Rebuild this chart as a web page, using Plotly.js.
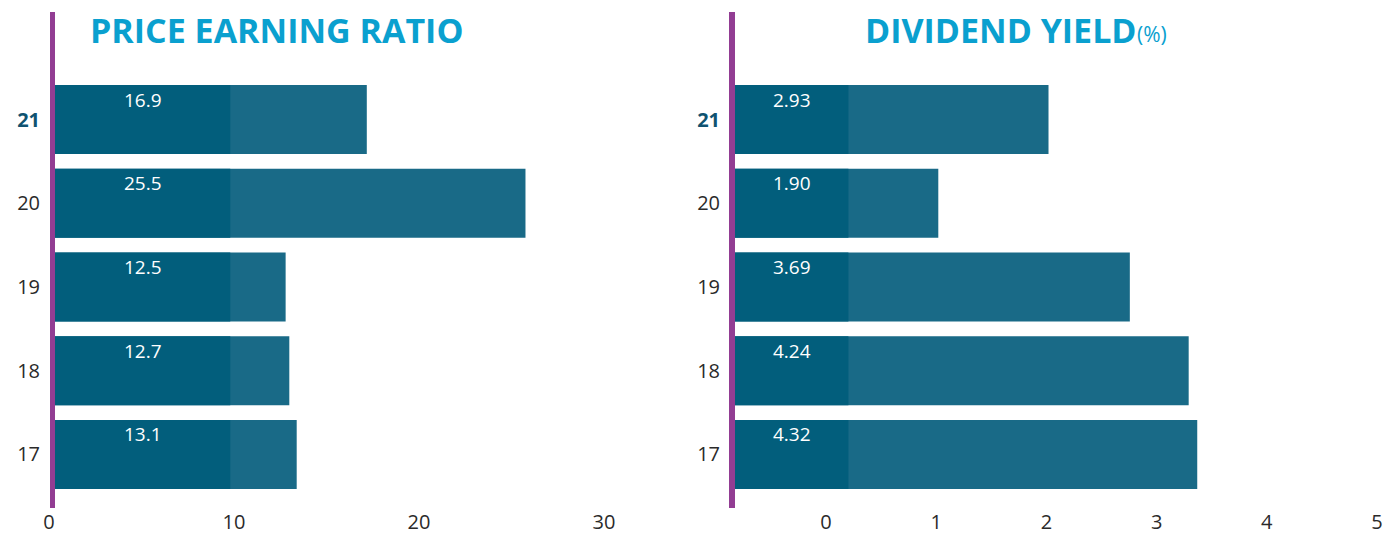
<!DOCTYPE html>
<html>
<head>
<meta charset="utf-8">
<script src="https://cdn.plot.ly/plotly-3.0.1.min.js"></script>
<style>
  html, body { margin: 0; padding: 0; background: #ffffff; }
  #chart { width: 1385px; height: 536px; }
</style>
</head>
<body>
<div id="chart"></div>
<script>
// ---- data ----
const years = ['17', '18', '19', '20', '21'];
const yearLabels = ['17', '18', '19', '20', '<span style="color:#0f5371"><b>21</b></span>'];
const perValues = [13.1, 12.7, 12.5, 25.5, 16.9];
const dyValues = [4.32, 4.24, 3.69, 1.90, 2.93];
const perTicks = [0, 10, 20, 30];
const dyTicks = [0, 1, 2, 3, 4, 5];
const perTitle = 'PRICE EARNING RATIO';
const dyTitle = 'DIVIDEND YIELD';
const dyUnit = '(%)';

// ---- style ----
const W = 1385, H = 536;
const DARK = '#025e7c';
const LIGHT = '#196a87';
const PURPLE = '#923d93';
const TITLE = '#0aa0cf';
const FONT = 'Open Sans, Lato, sans-serif';
const LABEL_W_PER = 9.5;   // width of the dark label block (PER units)
const LABEL_W_DY = 1.06;   // width of the dark label block (DY units)
const f = px => px / W;

// pixel geometry of the two panels
const perDom = [41, 650], perBar0 = 55, perBarScale = 18.45, perTick0 = 49, perTickScale = 18.5;
const dyDom = [721, 1384], dyBar0 = 735, dyBarScale = 107, dyTick0 = 826, dyTickScale = 110.2;
const yRange = [-0.639, 5.284];

const traces = [
  {type: 'bar', orientation: 'h', y: years, x: perValues, xaxis: 'x', yaxis: 'y',
   marker: {color: LIGHT}, hoverinfo: 'x'},
  {type: 'bar', orientation: 'h', y: years, x: years.map(() => LABEL_W_PER), xaxis: 'x', yaxis: 'y',
   marker: {color: DARK}, hoverinfo: 'skip'},
  {type: 'bar', orientation: 'h', y: years, x: dyValues, xaxis: 'x2', yaxis: 'y2',
   marker: {color: LIGHT}, hoverinfo: 'x'},
  {type: 'bar', orientation: 'h', y: years, x: years.map(() => LABEL_W_DY), xaxis: 'x2', yaxis: 'y2',
   marker: {color: DARK}, hoverinfo: 'skip'},
  // invisible carriers so the tick axes are created
  {type: 'scatter', mode: 'none', x: perTicks, y: perTicks.map(() => years[0]), xaxis: 'x3', yaxis: 'y',
   hoverinfo: 'skip', showlegend: false},
  {type: 'scatter', mode: 'none', x: dyTicks, y: dyTicks.map(() => years[0]), xaxis: 'x4', yaxis: 'y2',
   hoverinfo: 'skip', showlegend: false}
];

const tickFont = {family: FONT, size: 20, color: '#2a2a2a'};
const yAxisBase = {
  type: 'category', categoryorder: 'array', categoryarray: years,
  range: yRange, tickvals: years, ticktext: yearLabels,
  showgrid: false, zeroline: false, showline: false,
  ticks: '', tickfont: tickFont, fixedrange: true
};
const hiddenX = {showticklabels: false, ticks: '', showgrid: false, zeroline: false, showline: false, fixedrange: true};
const tickX = {
  showgrid: false, zeroline: false, showline: false,
  ticks: '', tickfont: tickFont, fixedrange: true
};

const annotations = [];
years.forEach((yr, i) => {
  annotations.push({x: LABEL_W_PER / 2, y: i, xref: 'x', yref: 'y', text: perValues[i].toFixed(1),
    showarrow: false, yshift: 20, font: {family: FONT, size: 19, color: '#ffffff'}});
  annotations.push({x: LABEL_W_DY / 2, y: i, xref: 'x2', yref: 'y2', text: dyValues[i].toFixed(2),
    showarrow: false, yshift: 20, font: {family: FONT, size: 19, color: '#ffffff'}});
});
const titleY = (508 - 30) / 496;
annotations.push({xref: 'paper', yref: 'paper', x: f(88), y: titleY, xanchor: 'left', yanchor: 'middle',
  text: '<b>' + perTitle + '</b>', showarrow: false, font: {family: FONT, size: 34, color: TITLE, weight: 800}});
annotations.push({xref: 'paper', yref: 'paper', x: f(863), y: titleY, xanchor: 'left', yanchor: 'middle',
  text: '<b>' + dyTitle + '</b>', showarrow: false, font: {family: FONT, size: 34, color: TITLE, weight: 800}});
annotations.push({xref: 'paper', yref: 'paper', x: f(1135), y: (508 - 34) / 496, xanchor: 'left', yanchor: 'middle',
  text: dyUnit, showarrow: false, font: {family: FONT, size: 21, color: TITLE}});

const shapes = [
  {type: 'rect', xref: 'x', xsizemode: 'pixel', xanchor: 0, x0: -5, x1: 0,
   yref: 'paper', y0: 0, y1: 1, fillcolor: PURPLE, line: {width: 0}, layer: 'above'},
  {type: 'rect', xref: 'x2', xsizemode: 'pixel', xanchor: 0, x0: -6, x1: 0,
   yref: 'paper', y0: 0, y1: 1, fillcolor: PURPLE, line: {width: 0}, layer: 'above'}
];

const layout = {
  width: W, height: H,
  margin: {l: 0, r: 0, t: 12, b: 28, pad: 0},
  paper_bgcolor: '#ffffff', plot_bgcolor: 'rgba(0,0,0,0)',
  showlegend: false, barmode: 'overlay', bargap: 0.176,
  font: {family: FONT},
  xaxis: Object.assign({}, hiddenX, {domain: [f(perDom[0]), f(perDom[1])], anchor: 'y',
    range: [(perDom[0] - perBar0) / perBarScale, (perDom[1] - perBar0) / perBarScale]}),
  xaxis3: Object.assign({}, tickX, {overlaying: 'x', anchor: 'y', side: 'bottom', tickvals: perTicks,
    range: [(perDom[0] - perTick0) / perTickScale, (perDom[1] - perTick0) / perTickScale]}),
  xaxis2: Object.assign({}, hiddenX, {domain: [f(dyDom[0]), f(dyDom[1])], anchor: 'y2',
    range: [(dyDom[0] - dyBar0) / dyBarScale, (dyDom[1] - dyBar0) / dyBarScale]}),
  xaxis4: Object.assign({}, tickX, {overlaying: 'x2', anchor: 'y2', side: 'bottom', tickvals: dyTicks,
    range: [(dyDom[0] - dyTick0) / dyTickScale, (dyDom[1] - dyTick0) / dyTickScale]}),
  yaxis: Object.assign({}, yAxisBase, {anchor: 'x', domain: [0, 1]}),
  yaxis2: Object.assign({}, yAxisBase, {anchor: 'x2', domain: [0, 1]}),
  annotations: annotations,
  shapes: shapes
};

Plotly.newPlot('chart', traces, layout, {displayModeBar: false, staticPlot: true});
</script>
</body>
</html>
